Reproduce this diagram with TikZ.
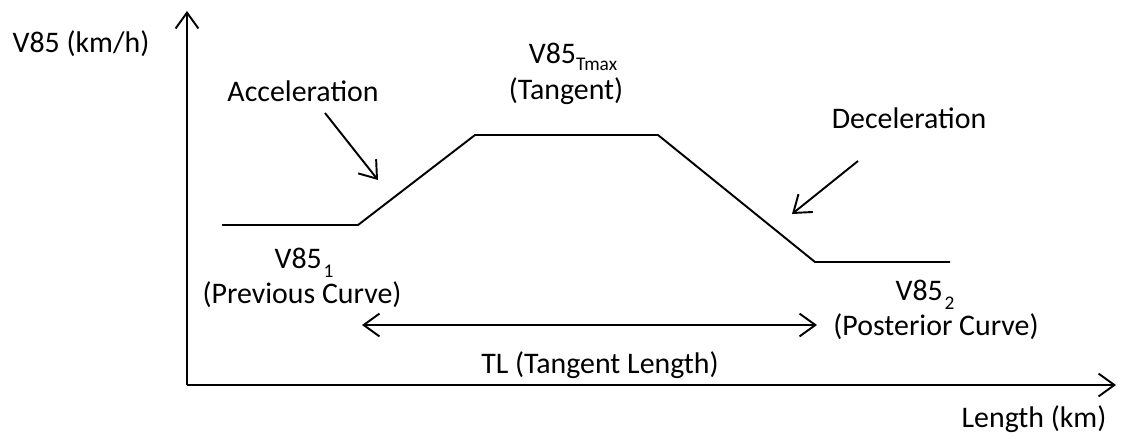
\documentclass[tikz,border=0pt]{standalone}
\usepackage{fontspec}
\setmainfont{Carlito}
\usetikzlibrary{arrows.meta,positioning}
\tikzset{>={Straight Barb[length=9pt,width=13pt]}}
\tikzstyle{txt} = [inner sep=0pt, anchor=base, font=\fontsize{17}{21}\selectfont]
\tikzstyle{line} = [draw, line width=1.1pt, ->]
\tikzstyle{speed} = [draw, line width=1.1pt, line join=miter]
\newcommand{\lowsub}[2]{\raisebox{#1}{\fontsize{11}{11}\selectfont #2}}

\begin{document}
\begin{tikzpicture}[x=0.02cm, y=-0.02cm]
    \useasboundingbox (0,0) rectangle (1121,437);
    % Axes
    \coordinate (origin) at (187,385);
    \coordinate (ytop) at (187,11);
    \coordinate (xend) at (1116,385);
    % Speed profile
    \coordinate (p1) at (222,225);
    \coordinate (p2) at (358,225);
    \coordinate (p3) at (475,135);
    \coordinate (p4) at (658,135);
    \coordinate (p5) at (815,262);
    \coordinate (p6) at (950,262);
    % Pointer and length arrow ends
    \coordinate (accS) at (325,113);
    \coordinate (accE) at (378,180);
    \coordinate (decS) at (858,161);
    \coordinate (decE) at (792,214);
    \coordinate (tlL) at (362,325);
    \coordinate (tlR) at (817,325);

    % Place nodes
    \node [txt] (yname) at (81,52) {V85 (km/h)};
    \node [txt] (xname) at (1034,427) {Length (km)};
    \node [txt] (acc) at (303,101) {Acceleration};
    \node [txt] (dec) at (909,128) {Deceleration};
    \node [txt] (vmax) at (573,63) {V85\lowsub{-4pt}{Tmax}};
    \node [txt] (tang) at (566,99) {(Tangent)};
    \node [txt] (vprev) at (304,268) {V85\kern1pt\lowsub{-5.5pt}{1}};
    \node [txt] (prev) at (302,303) {(Previous Curve)};
    \node [txt] (vpost) at (925,300) {V85\kern1pt\lowsub{-5.5pt}{2}};
    \node [txt] (post) at (936,335) {(Posterior Curve)};
    \node [txt] (tl) at (600,373) {TL (Tangent Length)};

    % Draw edges
    \path [line] (origin) -- (ytop);
    \path [line] (origin) -- (xend);
    \path [speed] (p1) -- (p2) -- (p3) -- (p4) -- (p5) -- (p6);
    \path [line] (accS) -- (accE);
    \path [line] (decS) -- (decE);
    \path [line, <->] (tlL) -- (tlR);
\end{tikzpicture}
\end{document}
